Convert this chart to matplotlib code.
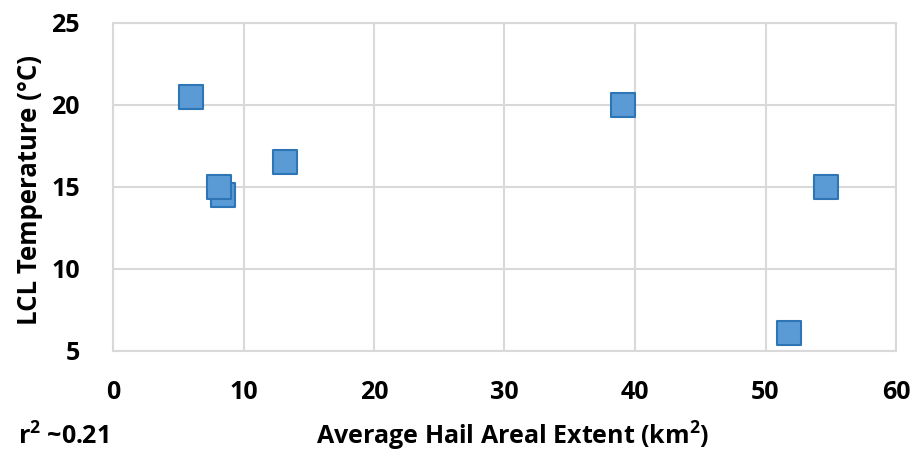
import matplotlib
matplotlib.use('Agg')
import matplotlib.pyplot as plt

# data
hail_extent = [6.0, 8.1, 8.4, 13.2, 39.1, 54.6, 51.8]
lcl_temp = [20.5, 15.0, 14.5, 16.5, 20.0, 15.0, 6.1]
x_ticks = [0, 10, 20, 30, 40, 50, 60]
y_ticks = [5, 10, 15, 20, 25]

plt.rcParams['font.family'] = ['Open Sans', 'DejaVu Sans']
plt.rcParams['font.weight'] = 'bold'
plt.rcParams['mathtext.fontset'] = 'custom'
plt.rcParams['mathtext.bf'] = 'Open Sans:bold'

fig = plt.figure(figsize=(9.15, 4.55), dpi=100)
ax = fig.add_axes([113/915, 1 - 351/455, (896 - 113)/915, (351 - 23)/455])

# draw later points first so the 8.1 point sits on top like the original
ax.scatter(hail_extent[::-1], lcl_temp[::-1], marker='s', s=300,
           facecolor='#5B9BD5', edgecolor='#2E75B6', linewidth=1.5, zorder=3)

ax.set_xlim(0, 60)
ax.set_ylim(5, 25)
ax.set_xticks(x_ticks)
ax.set_yticks(y_ticks)
ax.grid(True, color='#D9D9D9', linewidth=1.5)
ax.set_axisbelow(True)
for s in ax.spines.values():
    s.set_color('#D9D9D9')
    s.set_linewidth(1.5)
ax.tick_params(length=0, labelsize=18)
ax.tick_params(axis='x', pad=21)
ax.tick_params(axis='y', pad=24)
for lab in ax.get_xticklabels() + ax.get_yticklabels():
    lab.set_fontweight('bold')

ax.set_ylabel('LCL Temperature (°C)', fontsize=18.5, fontweight='bold', va='center')
ax.yaxis.set_label_coords((30 - 113) / 783, (351 - 190) / 328)
ax.set_xlabel('Average Hail Areal Extent (km$^\\mathbf{2}$)', fontsize=18, fontweight='bold', va='center')
ax.xaxis.set_label_coords((513 - 113) / 783, (351 - 436) / 328)
fig.text(18/915, 1 - 437/455, 'r$^\\mathbf{2}$ ~0.21', fontsize=18, fontweight='bold', va='center')

fig.savefig('out.png', dpi=100)
plt.close(fig)
